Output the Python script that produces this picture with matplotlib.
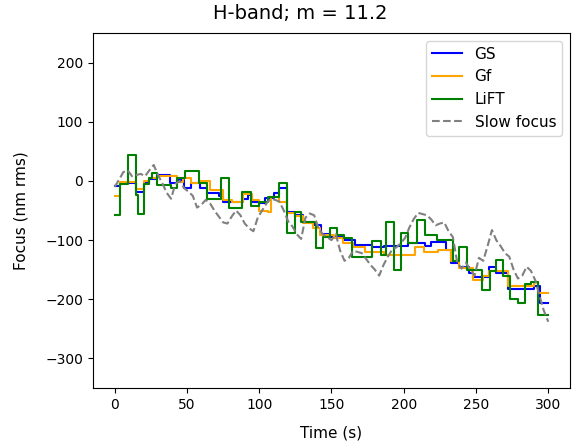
import matplotlib
matplotlib.use("Agg")
import matplotlib.pyplot as plt
import numpy as np

# step series: change times (s) and focus values (nm rms)
gs_t = [0, 4, 15, 20, 24, 29, 38, 43, 48, 53, 59, 64, 72, 75, 89, 92, 95, 100,
        104, 110, 114, 119, 125, 130, 138, 143, 148, 158, 166, 178, 186, 203,
        215, 219, 229, 233, 238, 245, 248, 259, 264, 272, 290, 294, 300]
gs_v = [-8, -3, -18, -3, 3, 10, -3, 2, -12, -3, -12, -20, -26, -36, -30, -24,
        -36, -38, -28, -20, -12, -52, -57, -70, -75, -90, -95, -100, -108, -112,
        -110, -105, -110, -104, -116, -138, -145, -155, -162, -145, -155, -182,
        -178, -206, -206]

gf_t = [0, 4, 15, 20, 24, 29, 38, 43, 47, 53, 59, 66, 75, 81, 89, 95, 100, 106,
        108, 114, 119, 125, 130, 137, 142, 152, 158, 165, 173, 186, 208, 214,
        224, 233, 238, 248, 255, 259, 272, 290, 293, 300]
gf_v = [-26, -2, -14, 0, 5, 8, 8, -2, 5, -4, 0, -15, -33, -36, -22, -33, -50,
        -52, -27, -35, -54, -60, -71, -79, -92, -97, -105, -111, -120, -125,
        -111, -120, -116, -136, -147, -167, -161, -153, -177, -170, -190, -190]

lift_t = [0, 4, 9, 14.5, 16, 20, 24, 26, 29, 39, 43, 49, 58.5, 64, 73.5, 79, 88,
          94, 100, 106, 114, 119, 125, 129, 139, 144, 149, 154, 159, 164, 178,
          184, 188, 193, 198, 203, 209, 215, 223, 234, 238, 243.5, 254, 260,
          264, 269, 273.5, 279, 284, 288, 293, 300]
lift_v = [-57, -5, 44, -24, -56, -5, 5, 13, -7, -12, 5, 16, -4, -30, 5, -45,
          -18, -43, -35, -27, -4, -88, -52, -69, -113, -95, -80, -91, -96, -128,
          -102, -125, -70, -151, -88, -105, -66, -91, -99, -136, -111, -150,
          -184, -153, -133, -161, -200, -206, -175, -170, -226, -226]

# slow focus, sampled every 3 s
slow_v = [-10, 2, 15, 18, 8, 10, 12, 8, 18, 27,
          10, -4, -20, -30, -5, 0, -12, -18, -25, -45,
          -40, -32, -38, -50, -60, -70, -72, -60, -50, -58,
          -72, -80, -85, -62, -50, -38, -30, -32, -35, -50,
          -68, -77, -90, -98, -62, -55, -58, -80, -90, -95,
          -100, -90, -118, -135, -130, -118, -120, -122, -132, -142,
          -150, -160, -142, -128, -116, -112, -105, -96, -78, -64,
          -54, -56, -58, -65, -75, -72, -70, -85, -95, -138,
          -148, -138, -150, -160, -130, -135, -110, -83, -100, -110,
          -122, -128, -150, -165, -160, -145, -152, -168, -195, -220,
          -238]
slow_t = 3 * np.arange(len(slow_v))

fig = plt.figure(figsize=(5.74, 4.47), dpi=100)
ax = fig.add_axes([0.162, 0.132, 0.831, 0.794])

ax.step(gs_t, gs_v, where='post', color='blue', label='GS')
ax.step(gf_t, gf_v, where='post', color='orange', label='Gf')
ax.step(lift_t, lift_v, where='post', color='green', label='LiFT')
ax.plot(slow_t, slow_v, '--', color='gray', label='Slow focus')

ax.set_ylim(-350, 250)
ax.set_xlabel('Time (s)', fontsize=11, labelpad=10)
ax.set_ylabel('Focus (nm rms)', fontsize=11, labelpad=12)
fig.suptitle('H-band; m = 11.2', x=0.523, y=0.992, va='top', fontsize=14)
ax.legend(loc='upper right', fontsize=11)

fig.savefig('out.png')
